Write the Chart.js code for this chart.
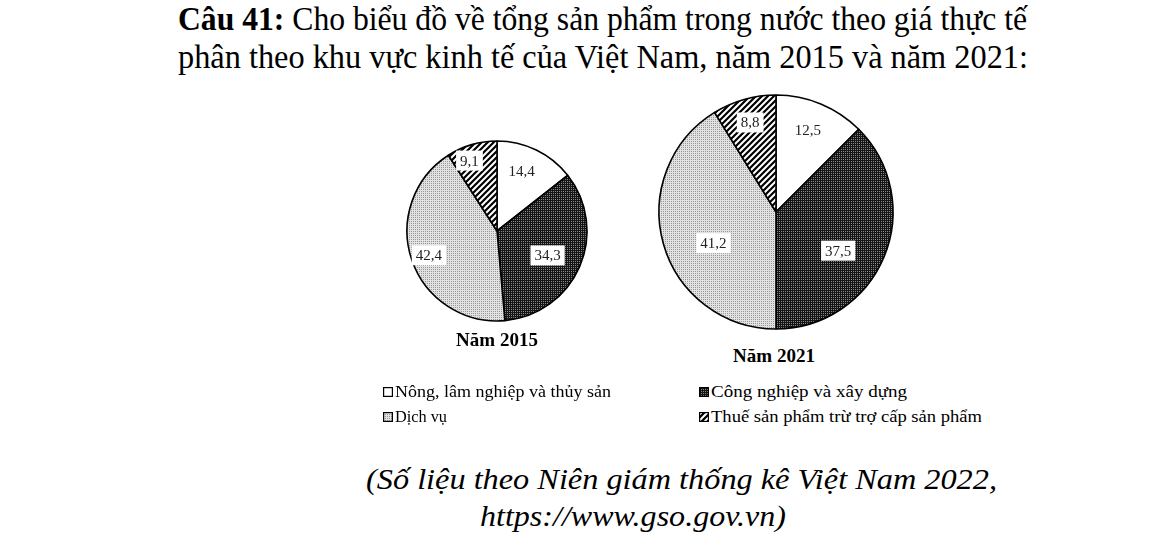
<!DOCTYPE html>
<html>
<head>
<meta charset="utf-8">
<script src="https://cdn.jsdelivr.net/npm/chart.js@4.4.0/dist/chart.umd.min.js"></script>
<style>
  body { margin: 0; width: 1170px; height: 549px; background: #fff; position: relative; overflow: hidden;
         font-family: "Liberation Serif", "Times New Roman", serif; color: #000; }
  .abs { position: absolute; white-space: nowrap; }
  .fit { display: inline-block; transform-origin: 0 0; }
  .tl { font-size: 33px; line-height: 38px; }
  .cap { font-size: 19px; font-weight: bold; transform: translateX(-50%); }
  .leg { font-size: 16px; display: flex; align-items: center; }
  .leg canvas { margin-right: 2px; }
  .src { font-size: 30px; font-style: italic; line-height: 37px; }
</style>
</head>
<body>
<div class="abs tl" style="left:178px;top:0px"><span class="fit" data-w="849"><b>Câu 41:</b> Cho biểu đồ về tổng sản phẩm trong nước theo giá thực tế</span></div>
<div class="abs tl" style="left:178px;top:38px"><span class="fit" data-w="850">phân theo khu vực kinh tế của Việt Nam, năm 2015 và năm 2021:</span></div>

<canvas id="pie2015" class="abs" width="200" height="200" style="left:397px;top:131px"></canvas>
<canvas id="pie2021" class="abs" width="250" height="250" style="left:651px;top:87px"></canvas>
<div id="cap2015" class="abs cap" style="left:497px;top:329px"></div>
<div id="cap2021" class="abs cap" style="left:774px;top:345px"></div>
<div id="legend"></div>

<div class="abs src" style="left:366px;top:460px"><span class="fit" data-w="631">(Số liệu theo Niên giám thống kê Việt Nam 2022,</span></div>
<div class="abs src" style="left:480px;top:497px"><span class="fit" data-w="306">https://www.gso.gov.vn)</span></div>

<script>
// categories and shares (%)
var categories = ['Nông, lâm nghiệp và thủy sản', 'Công nghiệp và xây dựng', 'Dịch vụ', 'Thuế sản phẩm trừ trợ cấp sản phẩm'];
var years = ['Năm 2015', 'Năm 2021'];
var values2015 = [14.4, 34.3, 42.4, 9.1];
var values2021 = [12.5, 37.5, 41.2, 8.8];

// fill patterns, one per category
function makePattern(kind) {
  var tile = document.createElement('canvas');
  var c = tile.getContext('2d');
  if (kind === 'white') {
    return '#ffffff';
  } else if (kind === 'dark') {
    tile.width = 2; tile.height = 2;
    c.fillStyle = '#151515'; c.fillRect(0, 0, 2, 2);
    c.fillStyle = '#8a8a8a'; c.fillRect(0, 0, 1, 1);
  } else if (kind === 'light') {
    tile.width = 2; tile.height = 2;
    c.fillStyle = '#e2e2e2'; c.fillRect(0, 0, 2, 2);
    c.fillStyle = '#979797'; c.fillRect(0, 0, 1, 1);
  } else {
    tile.width = 6; tile.height = 6;
    c.fillStyle = '#fff'; c.fillRect(0, 0, 6, 6);
    c.strokeStyle = '#000'; c.lineWidth = 2.2;
    c.beginPath();
    c.moveTo(-1, 7); c.lineTo(7, -1);
    c.moveTo(-4, 4); c.lineTo(4, -4);
    c.moveTo(2, 10); c.lineTo(10, 2);
    c.stroke();
  }
  return c.createPattern(tile, 'repeat');
}
var fills = [makePattern('white'), makePattern('dark'), makePattern('light'), makePattern('hatch')];

// value labels in white boxes inside slices
// frac: share of the radius along the slice middle, nudge: small [dx, dy] shift
function labelPlugin(frac, nudge) {
  return {
    id: 'sliceLabels',
    afterDatasetsDraw: function (chart) {
      var ctx = chart.ctx;
      var vals = chart.data.datasets[0].data;
      ctx.save();
      ctx.font = '15px "Liberation Serif", serif';
      ctx.textAlign = 'center';
      ctx.textBaseline = 'middle';
      chart.getDatasetMeta(0).data.forEach(function (arc, i) {
        var p = arc.getProps(['x', 'y', 'startAngle', 'endAngle', 'outerRadius'], true);
        var mid = (p.startAngle + p.endAngle) / 2;
        var r = p.outerRadius * frac[i];
        var x = p.x + Math.cos(mid) * r + nudge[i][0];
        var y = p.y + Math.sin(mid) * r + nudge[i][1];
        var txt = vals[i].toFixed(1).replace('.', ',');
        var w = ctx.measureText(txt).width + 8, h = 20;
        ctx.fillStyle = '#fff';
        ctx.fillRect(x - w / 2, y - h / 2, w, h);
        ctx.fillStyle = '#222';
        ctx.fillText(txt, x, y + 1);
      });
      ctx.restore();
    }
  };
}

function makePie(id, values, radius, frac, nudge) {
  new Chart(document.getElementById(id), {
    type: 'pie',
    data: {
      labels: categories,
      datasets: [{
        data: values,
        backgroundColor: fills,
        borderColor: '#000',
        borderWidth: 1.6,
        radius: radius
      }]
    },
    options: {
      responsive: false,
      animation: false,
      events: [],
      layout: { padding: 0 },
      plugins: { legend: { display: false }, tooltip: { enabled: false } }
    },
    plugins: [labelPlugin(frac, nudge)]
  });
}

makePie('pie2015', values2015, 90, [0.68, 0.6, 0.8, 0.85], [[-2, -5], [1, 3], [0, 1], [-6, 3]]);
makePie('pie2021', values2021, 117, [0.8, 0.64, 0.6, 0.84], [[-4, 5], [-7, 10], [5, 12], [1, 5]]);

document.getElementById('cap2015').textContent = years[0];
document.getElementById('cap2021').textContent = years[1];

// legend: two columns, row-major
var legendPos = [[383, 383], [699, 383], [383, 408], [699, 408]];
var legendW = [216, 196, 52, 271];
var legend = document.getElementById('legend');
categories.forEach(function (name, i) {
  var item = document.createElement('div');
  item.className = 'abs leg';
  item.style.left = legendPos[i][0] + 'px';
  item.style.top = legendPos[i][1] + 'px';
  var sw = document.createElement('canvas');
  sw.width = 10; sw.height = 10;
  var c = sw.getContext('2d');
  c.fillStyle = fills[i]; c.fillRect(0, 0, 10, 10);
  c.strokeStyle = '#000'; c.lineWidth = 1.2; c.strokeRect(0.6, 0.6, 8.8, 8.8);
  item.appendChild(sw);
  var t = document.createElement('span');
  t.className = 'fit';
  t.setAttribute('data-w', legendW[i]);
  t.textContent = name;
  item.appendChild(t);
  legend.appendChild(item);
});

// stretch/squeeze text lines to the widths seen in the picture
document.querySelectorAll('.fit').forEach(function (el) {
  var w = el.getBoundingClientRect().width;
  el.style.transform = 'scaleX(' + (parseFloat(el.getAttribute('data-w')) / w) + ')';
});
</script>
</body>
</html>
